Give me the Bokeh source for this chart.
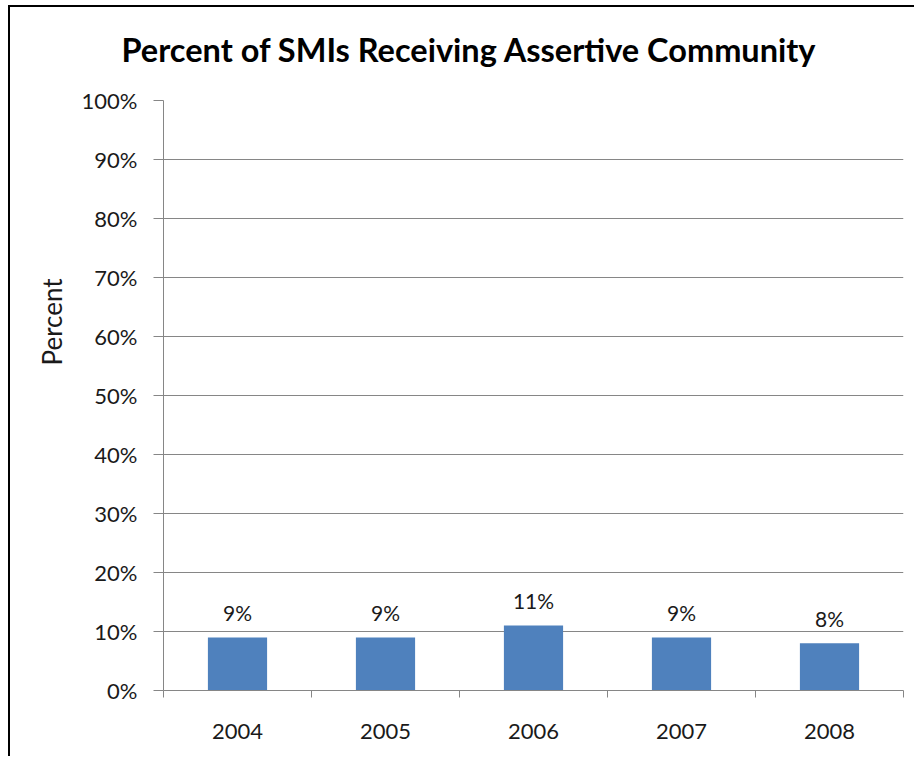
from bokeh.plotting import figure
from bokeh.models import (FactorRange, Range1d, LinearAxis, FixedTicker, Title,
                          PrintfTickFormatter, LabelSet, ColumnDataSource, Grid)
from bokeh.core.properties import value
from bokeh.embed import file_html
from bokeh.resources import INLINE

years = ["2004", "2005", "2006", "2007", "2008"]
percent = [9, 9, 11, 9, 8]
y_ticks = [0, 10, 20, 30, 40, 50, 60, 70, 80, 90, 100]
title_text = "Percent of SMIs Receiving Assertive Community"
y_label_text = "Percent"

FONT = "Lato"
TXT = "#1a1a1a"
AX = "#868686"

src = ColumnDataSource(dict(year=years, pct=percent, label=[f"{v}%" for v in percent]))

p = figure(width=906, height=751, x_range=FactorRange(*years), y_range=Range1d(0, 100),
           output_backend="svg", toolbar_location=None, title=None,
           x_axis_location=None, y_axis_location=None,
           min_border_left=153, min_border_right=13, min_border_top=93, min_border_bottom=68)
p.outline_line_color = None
p.background_fill_color = "white"
p.border_fill_color = "white"
p.styles = {"margin-left": "8px", "margin-top": "5px",
            "border-left": "2px solid black", "border-top": "2px solid black"}
for g in p.xgrid + p.ygrid:
    g.visible = False

# invisible spacer between frame and title (one hidden tick, hidden label)
spacer = LinearAxis(ticker=FixedTicker(ticks=[2.5]), axis_line_color=None, major_tick_out=27,
                    major_tick_in=0, major_tick_line_color=None, minor_tick_line_color=None,
                    major_label_standoff=0, major_label_text_color=None,
                    major_label_text_font_size="10px")
p.add_layout(spacer, "above")
p.add_layout(Title(text=title_text, align="left", offset=-42, vertical_align="bottom", standoff=10,
                   text_font=FONT, text_font_style="bold", text_font_size="32.5px",
                   text_color="black"), "above")

# y axis
yax = LinearAxis(ticker=FixedTicker(ticks=y_ticks), formatter=PrintfTickFormatter(format="%d%%"),
                 major_tick_out=10, major_tick_in=0, minor_tick_line_color=None,
                 axis_line_color=AX, major_tick_line_color=AX,
                 major_label_standoff=16, major_label_text_font=FONT,
                 major_label_text_font_size="22px", major_label_text_color=TXT)
p.add_layout(yax, "left")
p.add_layout(Title(text=y_label_text, align="left", offset=325, vertical_align="bottom", standoff=22,
                   text_font=FONT, text_font_style="normal", text_font_size="26px",
                   text_color=TXT), "left")

# x axis: labels at category centres, minor ticks at category boundaries
centers = [i + 0.5 for i in range(len(years))]
bounds_ticks = [float(i) for i in range(len(years) + 1)]
xax = LinearAxis(ticker=FixedTicker(ticks=centers, minor_ticks=bounds_ticks),
                 major_label_overrides={c: y for c, y in zip(centers, years)},
                 major_tick_out=0, major_tick_in=0, major_tick_line_color=None,
                 minor_tick_out=7, minor_tick_in=0, minor_tick_line_color=AX,
                 axis_line_color=AX, major_label_standoff=26, major_label_text_font=FONT,
                 major_label_text_font_size="22px", major_label_text_color=TXT)
p.add_layout(xax, "below")

grid_ticks = [t for t in y_ticks if 0 < t < 100]
p.add_layout(Grid(dimension=1, ticker=FixedTicker(ticks=grid_ticks), grid_line_color=AX))

p.vbar(x="year", top="pct", width=0.4, source=src, fill_color="#4F81BD", line_color=None)

p.add_layout(LabelSet(x="year", y="pct", text="label", source=src, y_offset=25,
                      text_align="center", text_baseline="middle", text_font=value(FONT),
                      text_font_size=value("21px"), text_color=TXT))

open("out.html", "w").write(file_html(p, INLINE))
